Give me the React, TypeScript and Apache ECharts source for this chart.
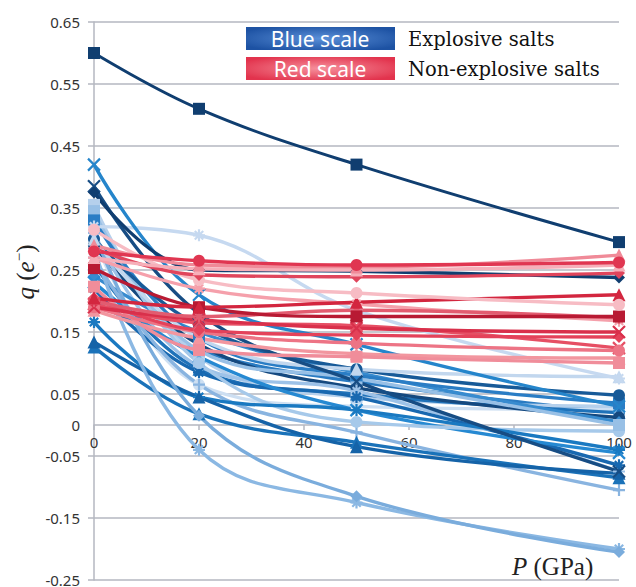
import React, { useEffect, useRef } from "react";
import * as echarts from "echarts";

// Pressure points (GPa)
const pressures = [0, 20, 50, 100];

// Explosive salts (blue scale) – charge q (e-)
const e01 = [0.6, 0.51, 0.42, 0.295];
const e02 = [0.375, 0.25, 0.248, 0.238];
const e03 = [0.42, 0.21, 0.13, 0.03];
const e04 = [0.385, 0.18, 0.07, -0.075];
const e05 = [0.32, 0.306, 0.185, 0.075];
const e06 = [0.3, 0.14, 0.09, 0.078];
const e07 = [0.31, 0.015, -0.115, -0.205];
const e08 = [0.285, -0.04, -0.125, -0.2];
const e09 = [0.134, 0.045, -0.035, -0.078];
const e10 = [0.126, 0.018, -0.028, -0.085];
const e11 = [0.166, 0.045, 0.024, -0.04];
const e12 = [0.3, 0.16, 0.09, 0.048];
const e13 = [0.33, 0.14, 0.08, 0.035];
const e14 = [0.345, 0.12, 0.075, 0.0];
const e15 = [0.34, 0.1, 0.005, -0.01];
const e16 = [0.27, 0.065, -0.012, -0.105];
const e17 = [0.23, 0.11, 0.024, -0.045];
const e18 = [0.29, 0.13, 0.06, 0.012];
const e19 = [0.26, 0.09, 0.05, 0.02];
const e20 = [0.355, 0.11, 0.045, 0.03];
const e21 = [0.3, 0.065, 0.03, 0.025];
const e22 = [0.22, 0.085, 0.045, -0.065];
const e23 = [0.24, 0.15, 0.085, 0.005];
const e24 = [0.31, 0.095, 0.055, -0.075];
const e25 = [0.2, 0.12, 0.07, 0.02];

// Non-explosive salts (red scale)
const n01 = [0.28, 0.265, 0.258, 0.262];
const n02 = [0.29, 0.258, 0.255, 0.274];
const n03 = [0.27, 0.252, 0.25, 0.258];
const n04 = [0.285, 0.242, 0.239, 0.245];
const n05 = [0.315, 0.234, 0.213, 0.194];
const n06 = [0.205, 0.19, 0.198, 0.21];
const n07 = [0.253, 0.19, 0.175, 0.175];
const n08 = [0.2, 0.175, 0.185, 0.173];
const n09 = [0.19, 0.17, 0.156, 0.15];
const n10 = [0.205, 0.153, 0.145, 0.142];
const n11 = [0.19, 0.15, 0.132, 0.12];
const n12 = [0.223, 0.121, 0.11, 0.1];
const n13 = [0.27, 0.22, 0.195, 0.168];
const n14 = [0.195, 0.165, 0.16, 0.124];
const n15 = [0.185, 0.14, 0.115, 0.108];

const yTickLabelStep = 0.1;
const yMin = -0.25;
const yMax = 0.65;

const SYM_X = "path://M0,0L10,10M10,0L0,10";
const SYM_AST = "path://M5,0L5,10M0,5L10,5M1.5,1.5L8.5,8.5M8.5,1.5L1.5,8.5";
const SYM_PLUS = "path://M5,0L5,10M0,5L10,5";

type Def = { name: string; data: number[]; color: string; symbol: string; width?: number };

const blueDefs: Def[] = [
  { name: "E25", data: e25, color: "#2a7bc2", symbol: "circle" },
  { name: "E21", data: e21, color: "#cddff2", symbol: "circle" },
  { name: "E20", data: e20, color: "#b5d0ec", symbol: "rect" },
  { name: "E19", data: e19, color: "#1f72b9", symbol: "triangle" },
  { name: "E18", data: e18, color: "#15497f", symbol: "circle" },
  { name: "E24", data: e24, color: "#9dc2e8", symbol: SYM_AST },
  { name: "E23", data: e23, color: "#378bcf", symbol: "diamond" },
  { name: "E22", data: e22, color: "#1868b0", symbol: SYM_AST },
  { name: "E17", data: e17, color: "#2689d2", symbol: SYM_X },
  { name: "E16", data: e16, color: "#89b4e0", symbol: SYM_PLUS },
  { name: "E15", data: e15, color: "#a6c9ea", symbol: "circle" },
  { name: "E14", data: e14, color: "#98c0e6", symbol: "rect" },
  { name: "E13", data: e13, color: "#2a7dc5", symbol: "rect" },
  { name: "E12", data: e12, color: "#175a98", symbol: "circle" },
  { name: "E11", data: e11, color: "#1a79c1", symbol: SYM_AST },
  { name: "E10", data: e10, color: "#1a72b9", symbol: "triangle" },
  { name: "E09", data: e09, color: "#1563a8", symbol: "triangle" },
  { name: "E08", data: e08, color: "#8bb8e3", symbol: SYM_AST },
  { name: "E07", data: e07, color: "#7aacdc", symbol: "diamond" },
  { name: "E06", data: e06, color: "#c2d7ee", symbol: "triangle" },
  { name: "E05", data: e05, color: "#c6d9f0", symbol: SYM_AST },
  { name: "E04", data: e04, color: "#174d84", symbol: SYM_X },
  { name: "E03", data: e03, color: "#2585cb", symbol: SYM_X },
  { name: "E02", data: e02, color: "#103e70", symbol: "diamond" },
  { name: "E01", data: e01, color: "#103e70", symbol: "rect", width: 3 },
];

const redDefs: Def[] = [
  { name: "N15", data: n15, color: "#f2969f", symbol: "triangle" },
  { name: "N14", data: n14, color: "#e64f64", symbol: SYM_X },
  { name: "N13", data: n13, color: "#f5a0ab", symbol: SYM_AST },
  { name: "N12", data: n12, color: "#f08d9a", symbol: "rect" },
  { name: "N11", data: n11, color: "#ed7485", symbol: "circle" },
  { name: "N10", data: n10, color: "#e4425a", symbol: "diamond" },
  { name: "N09", data: n09, color: "#d9304b", symbol: SYM_X },
  { name: "N08", data: n08, color: "#e25c70", symbol: SYM_AST },
  { name: "N07", data: n07, color: "#b81a33", symbol: "rect" },
  { name: "N06", data: n06, color: "#d3263f", symbol: "triangle" },
  { name: "N05", data: n05, color: "#f7bcc4", symbol: "circle" },
  { name: "N04", data: n04, color: "#e0455c", symbol: "diamond" },
  { name: "N03", data: n03, color: "#f6afb9", symbol: "triangle" },
  { name: "N02", data: n02, color: "#f08a98", symbol: "triangle" },
  { name: "N01", data: n01, color: "#e03651", symbol: "circle" },
];

const GRID_COLOR = "#b4b7c0";
const SERIF = "'Liberation Serif', 'DejaVu Serif', serif";
const SERIF_WIDE = "'DejaVu Serif', 'Liberation Serif', serif";
const SANS = "'Noto Sans', 'Open Sans', sans-serif";
const GRID_BOTTOM = 7;
const CHART_H = 587;

function makeSeries(d: Def) {
  const isStroke = d.symbol.startsWith("path://");
  return {
    type: "line",
    name: d.name,
    data: pressures.map((p, i) => [p, d.data[i]]),
    smooth: 0.4,
    symbol: d.symbol,
    symbolSize: isStroke ? 12 : d.symbol === "triangle" ? 13 : 12,
    showAllSymbol: true,
    color: d.color,
    lineStyle: { color: d.color, width: d.width ?? 3.4 },
    itemStyle: isStroke
      ? { color: d.color, borderColor: d.color, borderWidth: 2.2 }
      : { color: d.color },
    emphasis: { disabled: true },
    z: 3,
  };
}

export default function App() {
  const ref = useRef<HTMLDivElement>(null);
  useEffect(() => {
    document.body.style.margin = "0";
    const chart = echarts.init(ref.current!, null, { renderer: "svg" });
    const option = {
      animation: false,
      backgroundColor: "#ffffff",
      grid: { left: 94, right: 17, top: 22, bottom: GRID_BOTTOM, containLabel: false, outerBoundsMode: "none" },
      xAxis: {
        type: "value",
        min: 0,
        max: 100,
        interval: 20,
        position: "bottom",
        offset: 0,
        axisLine: { show: true, onZero: false, lineStyle: { color: GRID_COLOR, width: 1.5 } },
        axisTick: { show: true, length: 5, lineStyle: { color: GRID_COLOR, width: 1.5 } },
        axisLabel: { fontSize: 15, color: "#333", fontFamily: SANS, margin: 9 },
        splitLine: { show: false },
      },
      yAxis: [
        {
          type: "value",
          min: yMin,
          max: yMax,
          interval: yTickLabelStep,
          axisLine: { show: true, onZero: false, lineStyle: { color: GRID_COLOR, width: 1.5 } },
          axisTick: { show: true, length: 6, lineStyle: { color: GRID_COLOR, width: 1.5 } },
          splitLine: { show: true, lineStyle: { color: GRID_COLOR, width: 1.5 } },
          axisLabel: {
            fontSize: 15,
            color: "#333",
            fontFamily: SANS,
            margin: 14,
            formatter: (v: number) => String(Math.round(v * 100) / 100),
          },
        },
        {
          type: "value",
          min: yMin,
          max: yMax,
          interval: 0.05,
          position: "left",
          axisLine: { show: false, onZero: false },
          axisTick: { show: false },
          splitLine: { show: false },
          axisLabel: {
            fontSize: 15,
            color: "#333",
            fontFamily: SANS,
            margin: 14,
            formatter: (v: number) => (Math.abs(v) < 1e-6 ? "0" : ""),
          },
        },
      ],
      series: [...blueDefs.map(makeSeries), ...redDefs.map(makeSeries)],
      graphic: [
        {
          type: "rect",
          shape: { x: 246, y: 27, width: 149, height: 23 },
          style: {
            fill: {
              type: "radial",
              x: 0.5,
              y: 0.5,
              r: 0.6,
              colorStops: [
                { offset: 0, color: "#5a8fd8" },
                { offset: 1, color: "#1d52a3" },
              ],
            },
          },
          z: 10,
        },
        {
          type: "text",
          x: 320,
          y: 39,
          style: {
            text: "Blue scale",
            fill: "#ffffff",
            fontSize: 21,
            fontFamily: SANS,
            align: "center",
            verticalAlign: "middle",
          },
          z: 11,
        },
        {
          type: "rect",
          shape: { x: 246, y: 57, width: 149, height: 23 },
          style: {
            fill: {
              type: "radial",
              x: 0.5,
              y: 0.5,
              r: 0.6,
              colorStops: [
                { offset: 0, color: "#f6909c" },
                { offset: 1, color: "#e2334d" },
              ],
            },
          },
          z: 10,
        },
        {
          type: "text",
          x: 320,
          y: 69,
          style: {
            text: "Red scale",
            fill: "#ffffff",
            fontSize: 21,
            fontFamily: SANS,
            align: "center",
            verticalAlign: "middle",
          },
          z: 11,
        },
        {
          type: "text",
          x: 408,
          y: 39,
          style: {
            text: "Explosive salts",
            fill: "#111",
            fontSize: 19.5,
            fontFamily: SERIF_WIDE,
            align: "left",
            verticalAlign: "middle",
          },
          z: 11,
        },
        {
          type: "text",
          x: 408,
          y: 69,
          style: {
            text: "Non-explosive salts",
            fill: "#111",
            fontSize: 19.5,
            fontFamily: SERIF_WIDE,
            align: "left",
            verticalAlign: "middle",
          },
          z: 11,
        },
        {
          type: "text",
          x: 25,
          y: 272,
          rotation: Math.PI / 2,
          style: {
            text: "{i|q} ({i|e}{s|−})",
            fill: "#222",
            fontSize: 25,
            fontFamily: SERIF,
            align: "center",
            verticalAlign: "middle",
            rich: {
              i: { fontStyle: "italic", fontSize: 25, fontFamily: SERIF, fill: "#222" },
              s: { fontSize: 15, fontFamily: SERIF, fill: "#222", padding: [0, 0, 12, 0] },
            },
          },
          z: 11,
        },
        {
          type: "text",
          x: 512,
          y: 566,
          style: {
            text: "{i|P} (GPa)",
            fill: "#222",
            fontSize: 25,
            fontFamily: SERIF,
            align: "left",
            verticalAlign: "middle",
            rich: {
              i: { fontStyle: "italic", fontSize: 25, fontFamily: SERIF, fill: "#222" },
            },
          },
          z: 11,
        },
      ],
    };
    chart.setOption(option as any);
    // Place the P axis on the q = 0 line, using the y scale's own pixel mapping
    const zeroPx = chart.convertToPixel({ yAxisIndex: 0 }, 0) as unknown as number;
    const bottomPx = CHART_H - GRID_BOTTOM;
    if (typeof zeroPx === "number" && isFinite(zeroPx)) {
      chart.setOption({ xAxis: { offset: zeroPx - bottomPx } } as any);
    }
    return () => chart.dispose();
  }, []);
  return <div ref={ref} style={{ width: 636, height: 587 }} />;
}
